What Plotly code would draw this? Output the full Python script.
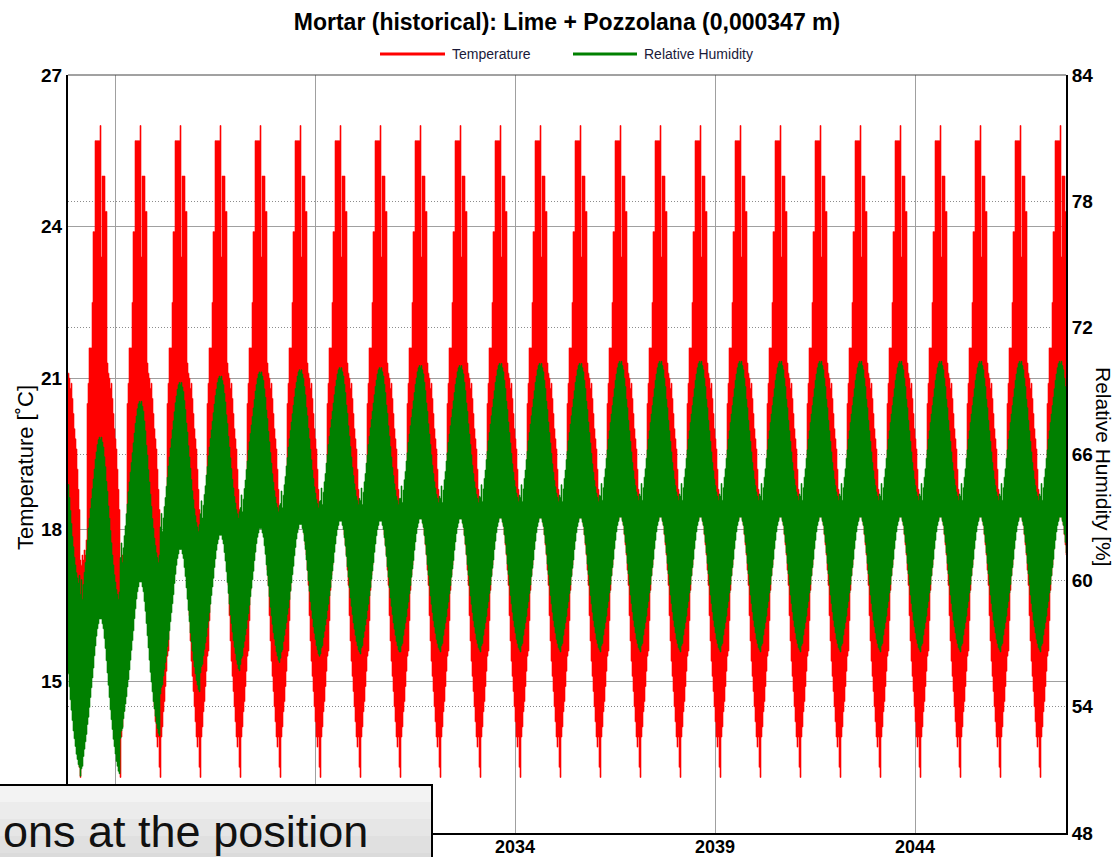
import numpy as np
import plotly.graph_objects as go

TITLE = "Mortar (historical): Lime + Pozzolana (0,000347 m)"
OVERLAY_TEXT = "ons at the position"

year_ticks = [2024, 2029, 2034, 2039, 2044]
temp_ticks = [12, 15, 18, 21, 24, 27]
rh_ticks = [48, 54, 60, 66, 72, 78, 84]

# One climate year in 40 steps, starting at the February minimum.
# Upper / lower edge of the surface temperature band [°C].
temp_hi_year = [17.4, 17.3, 17.5, 17.4, 17.6, 17.5, 17.8, 20.5, 20.9, 21.6,
                21.6, 21.6, 22.5, 23.9, 23.9, 25.7, 25.7, 25.7, 25.7, 25.7,
                26.0, 23.4, 25.0, 25.0, 25.0, 24.3, 24.3, 21.3, 21.1, 21.0,
                20.8, 20.9, 20.6, 20.3, 20.0, 19.8, 19.6, 19.2, 18.8, 18.4]
temp_lo_year = [13.1, 13.9, 14.1, 14.4, 14.6, 14.9, 15.2, 15.5, 15.6, 16.2,
                16.8, 17.1, 17.3, 17.6, 17.8, 18.0, 18.1, 18.2, 18.2, 18.3,
                18.3, 18.3, 18.2, 18.1, 17.9, 17.7, 17.5, 17.2, 16.9, 16.3,
                15.8, 15.4, 15.1, 14.8, 14.5, 14.2, 13.9, 13.7, 13.9, 13.3]

# Upper / lower edge of the relative humidity band [%] once settled.
rh_hi_year = [64.0, 64.6, 63.8, 64.4, 64.9, 65.3, 65.8, 66.2, 66.7, 67.1,
              67.5, 67.9, 68.3, 68.7, 69.1, 69.5, 69.8, 70.1, 70.3, 70.4,
              70.3, 70.4, 70.2, 70.0, 69.6, 69.2, 68.6, 68.2, 67.6, 67.1,
              66.6, 66.1, 65.6, 65.2, 64.8, 64.5, 64.2, 64.0, 63.8, 64.1]
rh_lo_year = [56.6, 56.9, 57.0, 57.4, 57.7, 58.0, 58.3, 58.7, 59.0, 59.4,
              59.8, 60.2, 60.6, 61.0, 61.5, 61.9, 62.3, 62.6, 62.8, 63.0,
              63.0, 63.0, 62.8, 62.6, 62.2, 61.8, 61.3, 60.8, 60.3, 59.8,
              59.3, 58.9, 58.5, 58.1, 57.8, 57.5, 57.2, 57.0, 56.8, 56.7]

# Humidity extremes per year (cycles Feb 2022 ... Feb 2047): the material
# dries out from its initial state during the first years.
rh_summer_max = [68.0, 66.8, 68.5, 69.4, 69.7, 69.9, 70.0, 70.1, 70.1, 70.2,
                 70.2, 70.3, 70.3, 70.3, 70.4, 70.4, 70.4, 70.4, 70.4, 70.4,
                 70.4, 70.4, 70.4, 70.4, 70.4, 70.4]
rh_winter_min = [51.0, 50.7, 52.5, 54.6, 55.6, 56.0, 56.3, 56.5, 56.5, 56.6,
                 56.6, 56.6, 56.6, 56.6, 56.6, 56.6, 56.6, 56.6, 56.6, 56.6,
                 56.6, 56.6, 56.6, 56.6, 56.6, 56.6]

FIRST_CYCLE = 2022.125      # mid February 2022
STEPS_PER_YEAR = 40
T_START = 2022.825
T_END = 2047.775

# ---- build the time series ------------------------------------------------
s0 = int(round((T_START - FIRST_CYCLE) * STEPS_PER_YEAR))
s1 = int(round((T_END - FIRST_CYCLE) * STEPS_PER_YEAR))
steps = np.arange(s0, s1 + 1)
cycle = steps // STEPS_PER_YEAR
phase = steps % STEPS_PER_YEAR
t = FIRST_CYCLE + steps / STEPS_PER_YEAR

temp_hi = np.asarray(temp_hi_year)[phase]
temp_lo = np.asarray(temp_lo_year)[phase]

prof_min = min(rh_lo_year)
prof_max = max(rh_hi_year)
w = np.asarray(rh_winter_min)[cycle]
p = np.asarray(rh_summer_max)[cycle]
k = (p - w) / (prof_max - prof_min)
rh_hi = w + (np.asarray(rh_hi_year)[phase] - prof_min) * k
rh_lo = w + (np.asarray(rh_lo_year)[phase] - prof_min) * k

RED = "#ff0000"
GREEN = "#008000"
FONT = "Liberation Sans, Arial, sans-serif"

fig = go.Figure()


def band(lo, hi, color, yaxis):
    fig.add_trace(go.Scatter(x=t, y=lo, mode="lines", yaxis=yaxis,
                             line=dict(color=color, width=0.6, shape="hv"),
                             showlegend=False, hoverinfo="skip"))
    fig.add_trace(go.Scatter(x=t, y=hi, mode="lines", yaxis=yaxis,
                             line=dict(color=color, width=0.6, shape="hv"),
                             fill="tonexty", fillcolor=color,
                             showlegend=False, hoverinfo="skip"))


band(temp_lo, temp_hi, RED, "y")
band(rh_lo, rh_hi, GREEN, "y2")

W, H = 1117, 857
L, R, T, B = 68, 51, 75, 24
pw, ph = W - L - R, H - T - B


def px(xp):
    return (xp - L) / pw


def py(yp):
    return (H - B - yp) / ph


def labels(vals, hidden=()):
    # ticks covered by the caption box get no label
    return ["" if v in hidden else f"<b>{v}</b>" for v in vals]


tick_font = dict(family=FONT, size=19, color="#000000")

fig.update_layout(
    width=W, height=H,
    margin=dict(l=L, r=R, t=T, b=B, pad=0, autoexpand=False),
    paper_bgcolor="white", plot_bgcolor="white",
    showlegend=False,
    title=dict(text="<b>" + TITLE + "</b>", x=0.5, xref="paper",
               y=1 - 22 / H, yref="container", yanchor="middle",
               font=dict(family=FONT, size=23, color="#000000")),
    xaxis=dict(range=[T_START, T_END], tickvals=year_ticks,
               ticktext=labels(year_ticks, hidden=(2024, 2029)),
               tickfont=dict(family=FONT, size=18, color="#000000"),
               ticklabelstandoff=-4,
               showgrid=True, gridcolor="#a0a0a0",
               gridwidth=1, showline=True, linecolor="#000000", linewidth=2,
               ticks="", zeroline=False, automargin=False),
    yaxis=dict(range=[12, 27], tickvals=temp_ticks,
               ticktext=labels(temp_ticks, hidden=(12,)),
               tickfont=tick_font, showgrid=True, gridcolor="#a0a0a0",
               gridwidth=1, showline=True, linecolor="#000000", linewidth=2,
               ticks="", zeroline=False, automargin=False),
    yaxis2=dict(range=[48, 84], tickvals=rh_ticks,
                ticktext=labels(rh_ticks),
                tickfont=tick_font, overlaying="y", side="right",
                showgrid=True, gridcolor="#8c8c8c", griddash="1px,2px",
                gridwidth=1, showline=True, linecolor="#000000", linewidth=2,
                ticks="", zeroline=False, automargin=False),
)

shapes = [
    # top border of the plot frame
    dict(type="line", xref="paper", yref="paper", x0=0, x1=1, y0=1, y1=1,
         line=dict(color="#444444", width=1)),
    # legend swatches
    dict(type="line", xref="paper", yref="paper", x0=px(380), x1=px(445),
         y0=py(54), y1=py(54), line=dict(color=RED, width=3)),
    dict(type="line", xref="paper", yref="paper", x0=px(573), x1=px(637),
         y0=py(54), y1=py(54), line=dict(color=GREEN, width=3)),
]

# caption box over the lower left corner, with a soft vertical gradient
box_top, box_bottom = 785, 870
shades = ["#f3f3f3", "#ececec", "#e6e6e6", "#e0e0e0", "#dbdbdb"]
band_h = (box_bottom - box_top) / len(shades)
for i, c in enumerate(shades):
    shapes.append(dict(type="rect", xref="paper", yref="paper", layer="above",
                       x0=px(-20), x1=px(432),
                       y0=py(box_top + (i + 1) * band_h),
                       y1=py(box_top + i * band_h),
                       fillcolor=c, line=dict(width=0)))
shapes.append(dict(type="rect", xref="paper", yref="paper", layer="above",
                   x0=px(-20), x1=px(432), y0=py(box_bottom), y1=py(box_top),
                   fillcolor="rgba(0,0,0,0)",
                   line=dict(color="#000000", width=2)))

annotations = [
    dict(text="Temperature", xref="paper", yref="paper", x=px(450), y=py(54),
         xanchor="left", yanchor="middle", showarrow=False,
         font=dict(family=FONT, size=14, color="#1a1a3a")),
    dict(text="Relative Humidity", xref="paper", yref="paper", x=px(642),
         y=py(54), xanchor="left", yanchor="middle", showarrow=False,
         font=dict(family=FONT, size=14, color="#1a1a3a")),
    dict(text="Temperature [˚C]", xref="paper", yref="paper", x=px(26),
         y=py(468), xanchor="center", yanchor="middle", showarrow=False,
         textangle=-90, font=dict(family=FONT, size=22, color="#000000")),
    dict(text="Relative Humidity [%]", xref="paper", yref="paper", x=px(1104),
         y=py(467), xanchor="center", yanchor="middle", showarrow=False,
         textangle=90, font=dict(family=FONT, size=21, color="#000000")),
    dict(text=OVERLAY_TEXT, xref="paper", yref="paper", x=px(1), y=py(831),
         xanchor="left", yanchor="middle", showarrow=False,
         font=dict(family=FONT, size=45, color="#111111")),
]

fig.update_layout(shapes=shapes, annotations=annotations)
fig.write_html("out.html")
